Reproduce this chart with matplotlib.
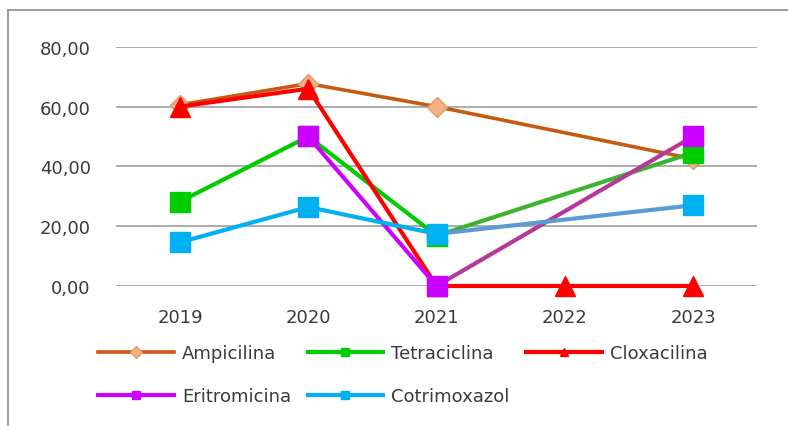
import numpy as np
import matplotlib.pyplot as plt
from matplotlib.lines import Line2D

plt.rcParams['font.family'] = ['DejaVu Sans']

# datos
years = ['2019', '2020', '2021', '2022', '2023']
ampicilina = [60.6, 67.7, 60.0, np.nan, 42.5]
tetraciclina = [28.2, 50.0, 16.8, np.nan, 44.6]
cloxacilina = [60.0, 66.0, 0.0, 0.0, 0.0]
eritromicina = [np.nan, 50.0, 0.0, np.nan, 50.0]
cotrimoxazol = [14.6, 26.4, 17.4, np.nan, 27.0]

series = [
    # nombre, valores, color línea, color del tramo sin dato, marcador, tamaño, relleno, borde, grosor
    ('Ampicilina', ampicilina, '#c55a11', '#c55a11', 'D', 10, '#f4b183', '#e39a66', 2.6),
    ('Tetraciclina', tetraciclina, '#00cc00', '#3cb52c', 's', 14, '#00cc00', '#00cc00', 3.0),
    ('Cloxacilina', cloxacilina, '#ff0000', '#ff0000', '^', 15, '#ff0000', '#ff0000', 3.0),
    ('Eritromicina', eritromicina, '#cc00ff', '#b4399a', 's', 14, '#cc00ff', '#cc00ff', 3.0),
    ('Cotrimoxazol', cotrimoxazol, '#00b0f0', '#5b9bd5', 's', 14, '#00b0f0', '#00b0f0', 3.0),
]

fig = plt.figure(figsize=(7.88, 4.27), dpi=100)
ax = fig.add_axes([0.147, 0.328, 0.814, 0.56])

x = np.arange(len(years))
z = 3
for name, vals, col, gapcol, mk, ms, mfc, mec, lw in series:
    v = np.array(vals, dtype=float)
    idx = np.where(~np.isnan(v))[0]
    for a, b in zip(idx[:-1], idx[1:]):
        c = col if b - a == 1 else gapcol
        ax.plot([x[a], x[b]], [v[a], v[b]], color=c, lw=lw, zorder=z,
                solid_capstyle='round', clip_on=False)
    ax.plot(x[idx], v[idx], ls='none', marker=mk, ms=ms, mfc=mfc, mec=mec,
            mew=1, zorder=z + 0.5, clip_on=False)
    z += 1

ax.set_xlim(-0.5, 4.5)
ax.set_ylim(0, 80)
ax.set_yticks([0, 20, 40, 60, 80])
ax.set_yticklabels(['0,00', '20,00', '40,00', '60,00', '80,00'])
ax.set_xticks(x)
ax.set_xticklabels(years)
ax.tick_params(axis='y', length=0, pad=18, labelsize=13, labelcolor='#3a3a3a')
ax.tick_params(axis='x', length=0, pad=16, labelsize=13, labelcolor='#3a3a3a')
ax.grid(axis='y', color='#a6a6a6', lw=1.3, zorder=0)
for s in ax.spines.values():
    s.set_visible(False)
ax.set_axisbelow(True)

# leyenda (orden por filas)
handles = {}
for name, vals, col, gapcol, mk, ms, mfc, mec, lw in series:
    handles[name] = Line2D([0], [0], color=col, lw=lw, marker=mk, ms=6,
                           mfc=mfc, mec=mec, label=name)
orden = ['Ampicilina', 'Eritromicina', 'Tetraciclina', 'Cotrimoxazol', 'Cloxacilina']
fig.legend(handles=[handles[n] for n in orden], ncol=3, loc='upper left',
           bbox_to_anchor=(0.104, 0.23), frameon=False, fontsize=13,
           handlelength=4.2, handletextpad=0.45, columnspacing=0.9,
           labelspacing=1.4, labelcolor='#3a3a3a')

# marco exterior
fig.add_artist(Line2D([8 / 788, 1], [1 - 11 / 427, 1 - 11 / 427], color='#8c8c8c', lw=1.2))
fig.add_artist(Line2D([8 / 788, 8 / 788], [0, 1 - 11 / 427], color='#8c8c8c', lw=1.2))

fig.savefig('out.png', dpi=100)
